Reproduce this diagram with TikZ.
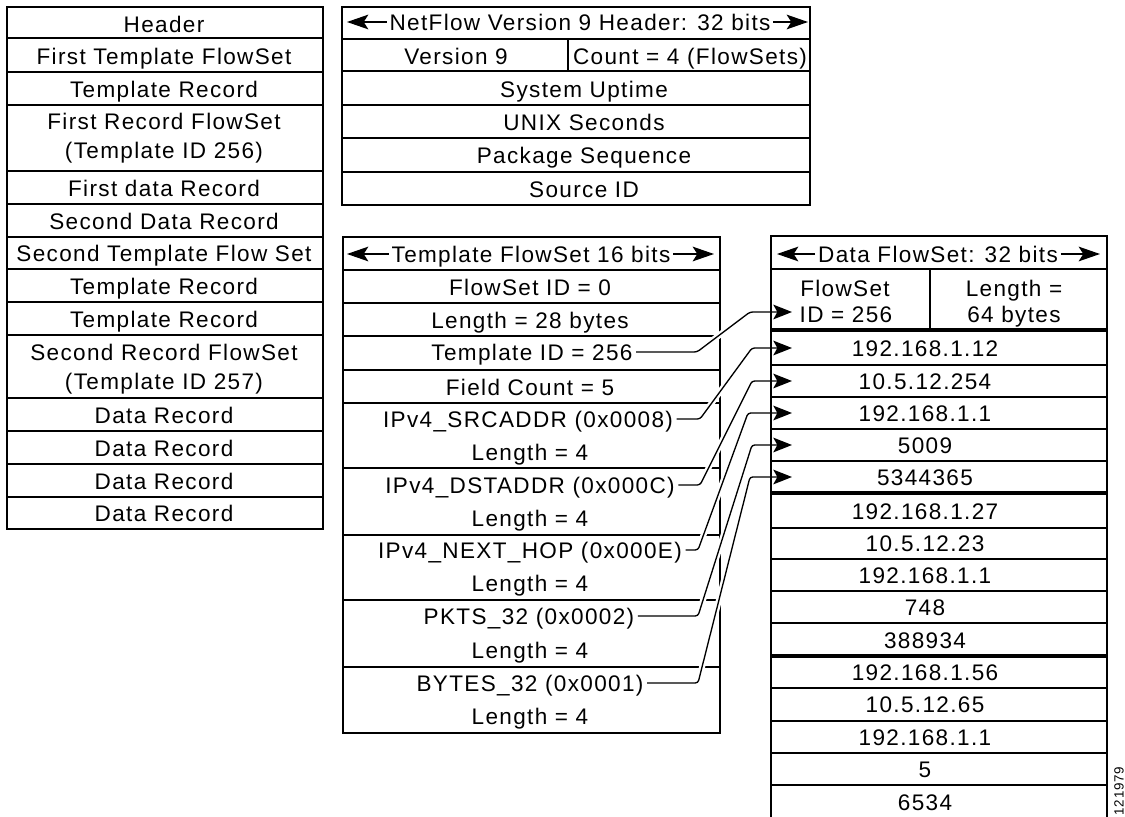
\documentclass[tikz,border=0pt]{standalone}
\usepackage{fontspec}
\setmainfont{Liberation Sans}[LetterSpace=6]
\usetikzlibrary{arrows.meta}
\begin{document}
\begin{tikzpicture}[x=0.75pt,y=-0.75pt,
  txt/.style={inner sep=0pt, text height=12.1pt, text depth=0pt, font=\fontsize{16.9}{20}\selectfont},
  ln/.style={line width=1.1pt},
  heavy/.style={line width=2.4pt},
  hdrarrow/.style={line width=1.2pt, shorten <=2pt, -{Stealth[length=16pt,width=11pt,inset=3.5pt]}},
  conn/.style={line width=1pt, shorten <=2.5pt, rounded corners=2pt, -{Stealth[length=14pt,width=11pt,inset=3pt]}, preaction={draw=white, line width=4.5pt, -}}]
\useasboundingbox (0,0) rectangle (1125,817);
\clip (0,0) rectangle (1125,817);
\fill[white] (0,0) rectangle (1125,817);

% ---------- left column ----------
\draw[ln] (7,7) rectangle (323,529);
\foreach \y in {38,72,105,171,204,237,269,302,335,398,431,464,497}
  \draw[ln] (7,\y) -- (323,\y);
\node[txt] (l1)  at (164,24)  {Header};
\node[txt] (l2)  at (164,56)  {First Template FlowSet};
\node[txt] (l3)  at (164,89)  {Template Record};
\node[txt] (l4a) at (164,121) {First Record FlowSet};
\node[txt] (l4b) at (164,150) {(Template ID 256)};
\node[txt] (l5)  at (164,188) {First data Record};
\node[txt] (l6)  at (164,221) {Second Data Record};
\node[txt] (l7)  at (164,253) {Second Template Flow Set};
\node[txt] (l8)  at (164,286) {Template Record};
\node[txt] (l9)  at (164,319) {Template Record};
\node[txt] (l10a) at (164,352) {Second Record FlowSet};
\node[txt] (l10b) at (164,381) {(Template ID 257)};
\node[txt] (l11) at (164,415) {Data Record};
\node[txt] (l12) at (164,448) {Data Record};
\node[txt] (l13) at (164,481) {Data Record};
\node[txt] (l14) at (164,513) {Data Record};

% ---------- NetFlow header ----------
\draw[ln] (342,7) rectangle (810,205);
\foreach \y in {39,71,105,138,172}
  \draw[ln] (342,\y) -- (810,\y);
\draw[ln] (568,39) -- (568,71);
\node[txt] (hT) at (580,22) {NetFlow Version 9 Header: 32 bits};
\coordinate (hTl) at (347,22);
\coordinate (hTr) at (808,22);
\draw[hdrarrow] (hT.west) -- (hTl);
\draw[hdrarrow] (hT.east) -- (hTr);
\node[txt] (h1) at (456,56) {Version 9};
\node[txt] (h2) at (690,56) {Count = 4 (FlowSets)};
\node[txt] (h3) at (584,89) {System Uptime};
\node[txt] (h4) at (584,122) {UNIX Seconds};
\node[txt] (h5) at (584,155) {Package Sequence};
\node[txt] (h6) at (584,189) {Source ID};

% ---------- Template FlowSet ----------
\draw[ln] (343,237) rectangle (720,733);
\foreach \y in {270,303,336,370,403,468,535,600,667}
  \draw[ln] (343,\y) -- (720,\y);
\node[txt] (tT) at (531,254) {Template FlowSet 16 bits};
\coordinate (tTl) at (347,254);
\coordinate (tTr) at (714,254);
\draw[hdrarrow] (tT.west) -- (tTl);
\draw[hdrarrow] (tT.east) -- (tTr);
\node[txt] (t1) at (530,287) {FlowSet ID = 0};
\node[txt] (t2) at (530,320) {Length = 28 bytes};
\node[txt] (tid) at (532,352) {Template ID = 256};
\node[txt] (t4) at (530,387) {Field Count = 5};
\node[txt] (src) at (528,419) {IPv4\_SRCADDR (0x0008)};
\node[txt] (t5b) at (530,452) {Length = 4};
\node[txt] (dst) at (530,485) {IPv4\_DSTADDR (0x000C)};
\node[txt] (t6b) at (530,518) {Length = 4};
\node[txt] (nh) at (530,550) {IPv4\_NEXT\_HOP (0x000E)};
\node[txt] (t7b) at (530,583) {Length = 4};
\node[txt] (pk) at (529,616) {PKTS\_32 (0x0002)};
\node[txt] (t8b) at (530,650) {Length = 4};
\node[txt] (by) at (530,683) {BYTES\_32 (0x0001)};
\node[txt] (t9b) at (530,716) {Length = 4};

% ---------- connectors ----------
\coordinate (k1) at (697,351); \coordinate (m1) at (750,312); \coordinate (a1) at (792,312);
\coordinate (k2) at (700,419); \coordinate (m2) at (752,348); \coordinate (a2) at (792,348);
\coordinate (k3) at (700,485); \coordinate (m3) at (752,381); \coordinate (a3) at (792,381);
\coordinate (k4) at (698,550); \coordinate (m4) at (748,413); \coordinate (a4) at (792,413);
\coordinate (k5) at (698,616); \coordinate (m5) at (752,445); \coordinate (a5) at (792,445);
\coordinate (k6) at (698,683); \coordinate (m6) at (750,477); \coordinate (a6) at (792,477);
\draw[conn] (tid.east) -- (tid.east -| k1) -- (m1) -- (a1);
\draw[conn] (src.east) -- (src.east -| k2) -- (m2) -- (a2);
\draw[conn] (dst.east) -- (dst.east -| k3) -- (m3) -- (a3);
\draw[conn] (nh.east)  -- (nh.east -| k4)  -- (m4) -- (a4);
\draw[conn] (pk.east)  -- (pk.east -| k5)  -- (m5) -- (a5);
\draw[conn] (by.east)  -- (by.east -| k6)  -- (m6) -- (a6);

% ---------- Data FlowSet ----------
\draw[ln] (771,236) rectangle (1107,820);
\foreach \y in {269,365,397,429,461,528,559,591,623,688,721,753,785}
  \draw[ln] (771,\y) -- (1107,\y);
\foreach \y in {330,493,656}
  \draw[heavy] (771,\y) -- (1107,\y);
\draw[ln] (930,269) -- (930,330);
\node[txt] (dT) at (938,254) {Data FlowSet: 32 bits};
\coordinate (dTl) at (777,254);
\coordinate (dTr) at (1100,254);
\draw[hdrarrow] (dT.west) -- (dTl);
\draw[hdrarrow] (dT.east) -- (dTr);
\node[txt] (d0a) at (845,288) {FlowSet};
\node[txt] (d0b) at (846,314) {ID = 256};
\node[txt] (d0c) at (1014,288) {Length =};
\node[txt] (d0d) at (1014,314) {64 bytes};
\node[txt] (d1) at (925,348) {192.168.1.12};
\node[txt] (d2) at (925,381) {10.5.12.254};
\node[txt] (d3) at (925,413) {192.168.1.1};
\node[txt] (d4) at (925,445) {5009};
\node[txt] (d5) at (925,477) {5344365};
\node[txt] (d6) at (925,511) {192.168.1.27};
\node[txt] (d7) at (925,543) {10.5.12.23};
\node[txt] (d8) at (925,575) {192.168.1.1};
\node[txt] (d9) at (925,607) {748};
\node[txt] (d10) at (925,640) {388934};
\node[txt] (d11) at (925,672) {192.168.1.56};
\node[txt] (d12) at (925,704) {10.5.12.65};
\node[txt] (d13) at (925,737) {192.168.1.1};
\node[txt] (d14) at (925,769) {5};
\node[txt] (d15) at (925,802) {6534};

\node[inner sep=0pt, rotate=90, font=\fontsize{10}{12}\selectfont] (code) at (1119,791) {121979};
\end{tikzpicture}
\end{document}
